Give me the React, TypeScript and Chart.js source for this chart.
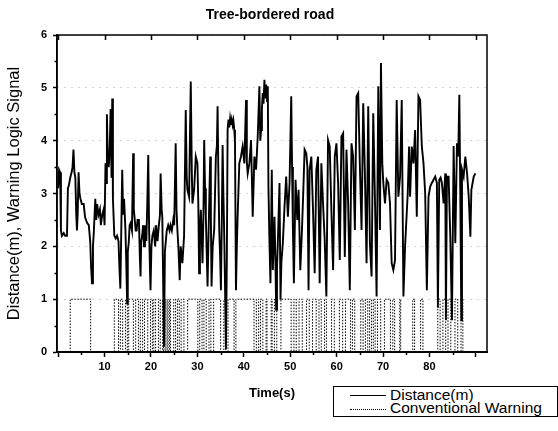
import React, { useEffect, useRef } from 'react';
import { Chart, registerables } from 'chart.js';

Chart.register(...registerables);

const FONT = "'Liberation Sans', Arial, Helvetica, sans-serif";

const chartTitle = 'Tree-bordered road';
const xAxisTitle = 'Time(s)';
const yAxisTitle = 'Distance(m), Warning Logic Signal';
const seriesNames = ['Distance(m)', 'Conventional Warning'];

const xTickValues = [0, 10, 20, 30, 40, 50, 60, 70, 80, 90];
const xTickLabels = [10, 20, 30, 40, 50, 60, 70, 80];
const xMinorTicks = [5, 15, 25, 35, 45, 55, 65, 75, 85];
const yTickValues = [0, 1, 2, 3, 4, 5, 6];
const yMinorTicks = [0.5, 1.5, 2.5, 3.5, 4.5, 5.5];

// Distance(m): time (s)
const distT = [
  0.0, 0.2, 0.43, 0.6, 0.8, 1.2, 1.5, 1.9, 2.1, 2.3, 2.6, 2.9, 3.1, 3.3, 3.5, 3.7, 3.9, 4.05, 4.2, 4.4,
  4.6, 4.8, 5.1, 5.5, 5.8, 6.2, 6.6, 6.9, 7.1, 7.3, 7.5, 7.7, 8.0, 8.2, 8.4, 8.7, 9.0, 9.2, 9.5, 9.8,
  10.0, 10.2, 10.35, 10.5, 10.7, 10.9, 11.1, 11.3, 11.5, 11.65, 11.8, 12.1, 12.4, 12.7, 13.0, 13.2, 13.4, 13.6, 13.8, 14.0,
  14.2, 14.5, 14.7, 14.86, 15.0, 15.2, 15.4, 15.6, 15.9, 16.16, 16.3, 16.45, 16.7, 16.9, 17.1, 17.4, 17.6, 17.75, 17.9, 18.1,
  18.3, 18.5, 18.7, 19.0, 19.2, 19.41, 19.6, 19.8, 19.9, 20.1, 20.3, 20.6, 20.9, 21.1, 21.4, 21.7, 21.93, 22.08, 22.3, 22.44,
  22.6, 22.8, 23.0, 23.16, 23.4, 23.7, 24.0, 24.2, 24.5, 24.8, 25.0, 25.32, 25.5, 25.69, 25.9, 26.19, 26.4, 26.77, 27.13, 27.49,
  27.7, 27.85, 28.21, 28.57, 28.8, 28.93, 29.29, 29.65, 30.01, 30.2, 30.37, 30.55, 30.74, 31.1, 31.3, 31.46, 31.65, 31.82, 32.0, 32.19,
  32.4, 32.76, 32.9, 33.05, 33.3, 33.62, 33.98, 34.2, 34.35, 34.5, 34.71, 34.9, 35.07, 35.25, 35.43, 35.6, 35.79, 36.0, 36.15, 36.35,
  36.51, 36.7, 36.87, 37.05, 37.23, 37.4, 37.59, 37.75, 37.95, 38.1, 38.31, 38.5, 38.67, 39.03, 39.39, 39.75, 40.12, 40.48, 40.65, 40.84,
  41.2, 41.56, 41.92, 42.28, 42.64, 43.0, 43.36, 43.55, 43.72, 43.9, 44.08, 44.25, 44.44, 44.6, 44.81, 45.0, 45.17, 45.31, 45.5, 45.74,
  46.03, 46.25, 46.61, 46.8, 46.97, 47.15, 47.33, 47.69, 47.91, 48.1, 48.41, 48.77, 49.13, 49.5, 49.86, 50.22, 50.4, 50.58, 50.79, 51.15,
  51.52, 51.8, 52.17, 52.53, 52.8, 53.1, 53.46, 53.7, 53.95, 54.18, 54.55, 54.91, 55.27, 55.63, 55.99, 56.35, 56.71, 57.07, 57.43, 57.79,
  58.15, 58.51, 58.87, 59.24, 59.6, 59.96, 60.32, 60.68, 61.04, 61.4, 61.76, 62.12, 62.48, 62.84, 63.2, 63.56, 63.93, 64.29, 64.65, 65.01,
  65.37, 65.73, 66.09, 66.45, 66.81, 67.17, 67.53, 67.89, 68.25, 68.61, 68.98, 69.34, 69.55, 69.84, 70.06, 70.42, 70.78, 71.14, 71.5, 71.86,
  72.22, 72.58, 72.94, 73.3, 73.67, 74.03, 74.39, 74.75, 75.32, 75.61, 75.83, 76.19, 76.55, 76.91, 77.27, 77.63, 77.99, 78.35, 78.72, 79.08,
  79.44, 79.8, 80.16, 80.52, 80.88, 81.24, 81.6, 81.82, 82.11, 82.4, 82.68, 83.05, 83.41, 83.55, 83.77, 84.13, 84.49, 84.85, 85.21, 85.57,
  85.93, 86.2, 86.44, 86.65, 86.87, 87.01, 87.37, 87.73, 88.1, 88.46, 88.82, 89.03, 89.54, 89.9,
];

// Distance(m): value
const distV = [
  3.1, 3.45, 3.4, 2.3, 2.2, 2.25, 2.2, 2.2, 3.1, 3.15, 3.3, 3.4, 3.5, 3.83, 3.4, 3.3, 2.6, 2.3, 2.6, 3.4,
  3.0, 2.9, 2.8, 2.8, 2.55, 2.45, 2.4, 2.1, 1.6, 1.3, 2.0, 2.3, 2.9, 2.5, 2.8, 2.6, 2.7, 2.4, 2.6, 2.7,
  2.4, 3.57, 3.2, 4.5, 3.7, 3.5, 3.8, 4.6, 3.3, 4.8, 2.9, 2.2, 2.15, 2.2, 2.1, 1.6, 1.2, 2.3, 3.45, 2.6,
  2.9, 2.3, 1.6, 0.92, 1.9, 2.06, 2.4, 2.44, 2.3, 3.76, 2.7, 2.56, 2.3, 2.3, 2.5, 2.5, 1.8, 1.43, 2.1, 2.2,
  2.4, 2.0, 2.4, 2.1, 2.8, 3.73, 2.3, 1.5, 1.17, 2.0, 2.2, 2.3, 2.0, 2.4, 2.1, 2.4, 2.59, 3.38, 2.7, 2.56,
  1.5, 0.1, 1.9, 2.06, 2.3, 2.4, 2.3, 2.4, 2.3, 2.5, 2.4, 3.95, 2.7, 2.31, 2.0, 1.36, 2.0, 1.68, 2.2, 4.58,
  3.3, 3.07, 2.94, 5.12, 3.4, 2.81, 3.07, 3.7, 3.57, 2.8, 1.49, 2.3, 2.69, 1.68, 2.6, 4.01, 3.1, 2.56, 1.9, 1.24,
  2.2, 3.7, 2.6, 1.24, 2.0, 2.31, 3.7, 3.9, 4.65, 3.5, 2.31, 1.8, 1.17, 2.4, 3.92, 3.0, 2.18, 1.0, 0.05, 1.8,
  4.2, 4.4, 4.25, 4.42, 4.3, 4.4, 4.3, 4.38, 4.2, 4.0, 1.17, 2.0, 2.56, 3.57, 3.7, 3.89, 3.57, 4.77, 3.6, 3.38,
  3.57, 4.01, 2.56, 3.7, 3.45, 4.08, 5.03, 4.0, 4.2, 4.6, 4.9, 4.7, 5.15, 4.8, 5.06, 4.75, 5.03, 3.13, 2.2, 1.3,
  3.45, 1.55, 2.56, 1.8, 0.8, 1.6, 2.06, 3.2, 0.99, 1.7, 2.06, 2.75, 3.32, 2.56, 3.2, 4.84, 3.5, 2.31, 1.3, 3.26,
  2.5, 3.07, 1.55, 2.31, 3.0, 3.83, 3.76, 3.5, 1.17, 3.45, 3.7, 2.69, 1.49, 3.45, 3.7, 1.3, 3.57, 2.81, 2.12, 1.05,
  4.01, 3.89, 2.69, 1.55, 3.7, 3.95, 3.2, 1.74, 4.08, 4.14, 1.8, 3.83, 2.81, 1.17, 3.95, 3.7, 2.31, 4.84, 4.9, 3.51,
  2.31, 4.71, 3.38, 1.68, 4.65, 2.06, 1.43, 4.52, 2.94, 1.05, 5.03, 2.31, 5.47, 3.57, 3.2, 2.81, 3.26, 3.2, 2.81, 1.68,
  1.55, 1.74, 4.77, 2.94, 3.32, 4.77, 1.05, 2.0, 3.0, 3.89, 2.94, 3.89, 3.57, 4.2, 2.56, 4.84, 4.77, 3.9, 3.57, 3.0,
  1.17, 2.94, 3.13, 3.2, 3.26, 3.32, 3.2, 0.84, 3.26, 3.3, 3.2, 2.81, 3.38, 0.6, 3.32, 3.32, 2.18, 0.6, 3.9, 2.06,
  3.95, 3.7, 4.87, 2.94, 0.6, 3.45, 3.32, 3.7, 3.38, 2.94, 2.18, 3.07, 3.32, 3.38,
];

// Conventional Warning: switching times (s) and level after each switch
const warnT = [
  0, 2.6, 7.0, 12.1, 13.0, 13.4, 13.9, 14.5, 14.9, 15.2,
  16.2, 16.7, 17.3, 17.7, 18.2, 18.6, 19.3, 19.9, 20.3, 20.6,
  21.0, 21.6, 22.0, 22.5, 22.7, 23.0, 23.2, 23.5, 23.7, 24.0,
  24.2, 24.9, 25.3, 25.7, 26.1, 26.5, 27.1, 27.9, 30.1, 30.5,
  31.0, 31.4, 31.9, 32.5, 32.9, 33.5, 35.0, 35.7, 36.1, 36.6,
  37.9, 38.3, 42.2, 42.7, 43.2, 43.6, 44.1, 44.8, 45.0, 45.9,
  46.1, 46.6, 47.1, 48.0, 50.2, 50.8, 51.3, 51.9, 52.6, 53.5,
  54.1, 54.8, 55.6, 56.2, 56.7, 57.4, 57.8, 58.9, 59.5, 60.6,
  61.3, 61.9, 63.0, 63.4, 63.9, 65.2, 65.7, 66.2, 66.7, 67.1,
  67.5, 67.9, 68.3, 68.8, 69.5, 70.3, 71.6, 72.1, 72.5, 73.6,
  73.8, 76.4, 76.8, 78.1, 78.6, 81.8, 82.3, 82.9, 83.5, 84.0,
  84.6, 85.5, 86.1, 86.8, 87.2, 89.9,
];
const warnV = [
  0, 1, 0, 1, 0, 1, 0, 1, 0, 1,
  0, 1, 0, 1, 0, 1, 0, 1, 0, 1,
  0, 1, 0, 1, 0, 1, 0, 1, 0, 1,
  0, 1, 0, 1, 0, 1, 0, 1, 0, 1,
  0, 1, 0, 1, 0, 1, 0, 1, 0, 1,
  0, 1, 0, 1, 0, 1, 0, 1, 0, 1,
  0, 1, 0, 1, 0, 1, 0, 1, 0, 1,
  0, 1, 0, 1, 0, 1, 0, 1, 0, 1,
  0, 1, 0, 1, 0, 1, 0, 1, 0, 1,
  0, 1, 0, 1, 0, 1, 0, 1, 0, 1,
  0, 1, 0, 1, 0, 1, 0, 1, 0, 1,
  0, 1, 0, 1, 0, 0,
];

const framePlugin = {
  id: 'frameTicks',
  afterDraw(chart: any) {
    const { ctx, chartArea: a, scales } = chart;
    const xs = scales.x;
    const ys = scales.y;
    ctx.save();
    ctx.strokeStyle = '#000';
    ctx.lineWidth = 1.5;
    ctx.setLineDash([]);
    ctx.strokeRect(a.left, a.top, a.right - a.left, a.bottom - a.top);
    ctx.beginPath();
    for (const v of xTickValues) {
      const px = Math.round(xs.getPixelForValue(v)) + 0.5;
      if (px <= a.left + 1) continue;
      ctx.moveTo(px, a.top);
      ctx.lineTo(px, a.top + 5);
    }
    for (const v of xMinorTicks) {
      const px = Math.round(xs.getPixelForValue(v)) + 0.5;
      ctx.moveTo(px, a.bottom);
      ctx.lineTo(px, a.bottom + 3);
    }
    for (const v of yMinorTicks) {
      const py = Math.round(ys.getPixelForValue(v)) + 0.5;
      ctx.moveTo(a.left, py);
      ctx.lineTo(a.left - 2.5, py);
    }
    ctx.stroke();
    ctx.restore();
  },
};

export default function App() {
  const ref = useRef<HTMLCanvasElement>(null);

  useEffect(() => {
    const canvas = ref.current;
    if (!canvas) return;
    const chart = new Chart(canvas, {
      type: 'line',
      data: {
        datasets: [
          {
            label: seriesNames[0],
            data: distT.map((t, i) => ({ x: t, y: distV[i] })),
            borderColor: '#000',
            backgroundColor: '#000',
            borderWidth: 1.9,
            pointRadius: 0,
            tension: 0,
            fill: false,
          },
          {
            label: seriesNames[1],
            data: warnT.map((t, i) => ({ x: t, y: warnV[i] })),
            borderColor: '#000',
            backgroundColor: '#000',
            borderWidth: 1,
            borderDash: [1.5, 1.5],
            stepped: true,
            pointRadius: 0,
            fill: false,
          },
        ],
      },
      options: {
        animation: false,
        responsive: false,
        events: [],
        layout: { padding: { top: 0, right: 18, bottom: 0, left: 0 } },
        plugins: {
          legend: { display: false },
          tooltip: { enabled: false },
          title: {
            display: true,
            text: chartTitle,
            color: '#000',
            font: { family: FONT, size: 14, weight: 'bold' },
            padding: { top: 6.6, bottom: 11.6 },
          },
        },
        scales: {
          x: {
            type: 'linear',
            position: 'bottom',
            min: -0.25,
            max: 92.4,
            afterBuildTicks: (s: any) => {
              s.ticks = xTickValues.map((v) => ({ value: v }));
            },
            afterFit: (s: any) => {
              s.height = 79;
            },
            ticks: {
              color: '#000',
              font: { family: FONT, size: 11, weight: 'bold' },
              padding: 3,
              maxRotation: 0,
              autoSkip: false,
              callback: (v: any) => (xTickLabels.includes(Number(v)) ? String(v) : ''),
            },
            grid: {
              display: true,
              drawOnChartArea: false,
              drawTicks: true,
              tickLength: 5,
              tickColor: '#000',
              tickWidth: 1.5,
            },
            border: { display: true, color: '#000', width: 2 },
            title: {
              display: true,
              text: xAxisTitle,
              color: '#000',
              font: { family: FONT, size: 13, weight: 'bold' },
              padding: { top: 0, bottom: 30 },
            },
          },
          y: {
            type: 'linear',
            position: 'left',
            min: 0,
            max: 6,
            afterBuildTicks: (s: any) => {
              s.ticks = yTickValues.map((v) => ({ value: v }));
            },
            afterFit: (s: any) => {
              s.width = 57;
            },
            ticks: {
              color: '#000',
              font: { family: FONT, size: 11, weight: 'bold' },
              padding: 6,
              callback: (v: any) => String(v),
            },
            grid: {
              display: true,
              color: 'rgba(0,0,0,0.35)',
              lineWidth: 1,
              drawTicks: true,
              tickLength: 4,
              tickColor: '#000',
              tickWidth: 1.5,
            },
            border: { display: true, color: '#000', width: 1.5, dash: [1, 6] },
            title: {
              display: true,
              text: yAxisTitle,
              color: '#000',
              font: { family: FONT, size: 16.5 },
              padding: { top: 5, bottom: 10 },
            },
          },
          yR: {
            type: 'linear',
            position: 'right',
            display: true,
            min: 0,
            max: 1,
            afterFit: (s: any) => {
              s.width = 53;
            },
            ticks: { display: false },
            grid: { display: false, drawTicks: false },
            border: { display: false },
          },
        },
      },
      plugins: [framePlugin],
    } as any);
    return () => chart.destroy();
  }, []);

  return (
    <div
      style={{
        position: 'absolute',
        left: 0,
        top: 0,
        width: 558,
        height: 431,
        background: '#fff',
        fontFamily: FONT,
        overflow: 'hidden',
      }}
    >
      <canvas ref={ref} width={558} height={431} style={{ display: 'block', width: 558, height: 431 }} />
      <div
        style={{
          position: 'absolute',
          left: 333,
          top: 386,
          width: 223,
          height: 29,
          border: '1px solid #000',
          background: '#fff',
          color: '#000',
          fontSize: 15.5,
          lineHeight: 1,
          whiteSpace: 'nowrap',
        }}
      >
        <div style={{ position: 'absolute', left: 16, top: 8, width: 36, borderTop: '1.5px solid #000' }} />
        <span style={{ position: 'absolute', left: 56, top: 0 }}>{seriesNames[0]}</span>
        <div style={{ position: 'absolute', left: 16, top: 22, width: 36, borderTop: '1px dotted #000' }} />
        <span style={{ position: 'absolute', left: 56, top: 13 }}>{seriesNames[1]}</span>
      </div>
    </div>
  );
}
